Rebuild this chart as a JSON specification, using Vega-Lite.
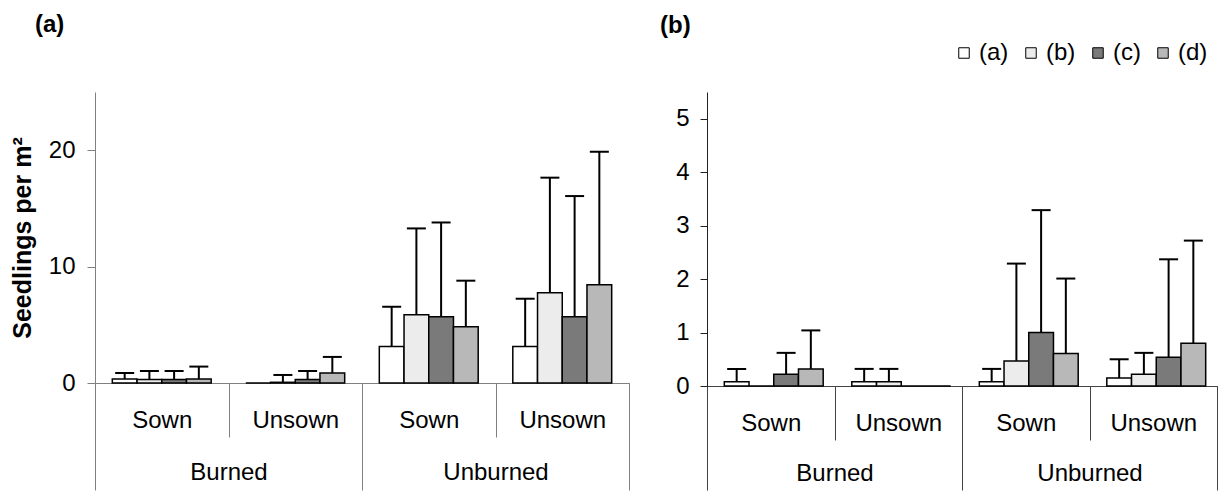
{
  "$schema": "https://vega.github.io/schema/vega-lite/v6.json",
  "padding": {"left": 10, "top": 13, "right": 0, "bottom": 0},
  "config": {
    "view": {"stroke": null},
    "font": "Liberation Sans",
    "axis": {"grid": false, "labelFont": "Liberation Sans", "titleFont": "Liberation Sans", "labelColor": "#000", "titleColor": "#000", "labelFontSize": 24},
    "title": {"font": "Liberation Sans", "fontSize": 24, "fontWeight": "bold", "color": "#000"},
    "legend": {"orient": "none", "legendX": 857, "legendY": -51, "direction": "horizontal", "title": null, "symbolType": "square", "symbolSize": 110, "symbolStrokeColor": "#000", "symbolStrokeWidth": 1, "labelFontSize": 24, "labelFont": "Liberation Sans", "labelColor": "#000", "columnPadding": 10, "labelOffset": 3, "padding": 0}
  },
  "datasets": {
    "pa": [
      {"cell": "Burned-Sown", "burn": "Burned", "series": "(a)", "mean": 0.34, "upper": 0.86},
      {"cell": "Burned-Sown", "burn": "Burned", "series": "(b)", "mean": 0.29, "upper": 1.03},
      {"cell": "Burned-Sown", "burn": "Burned", "series": "(c)", "mean": 0.29, "upper": 1.03},
      {"cell": "Burned-Sown", "burn": "Burned", "series": "(d)", "mean": 0.34, "upper": 1.41},
      {"cell": "Burned-Unsown", "burn": "Burned", "series": "(a)", "mean": 0, "upper": null},
      {"cell": "Burned-Unsown", "burn": "Burned", "series": "(b)", "mean": 0.06, "upper": 0.69},
      {"cell": "Burned-Unsown", "burn": "Burned", "series": "(c)", "mean": 0.29, "upper": 1.03},
      {"cell": "Burned-Unsown", "burn": "Burned", "series": "(d)", "mean": 0.86, "upper": 2.24},
      {"cell": "Unburned-Sown", "burn": "Unburned", "series": "(a)", "mean": 3.13, "upper": 6.55},
      {"cell": "Unburned-Sown", "burn": "Unburned", "series": "(b)", "mean": 5.86, "upper": 13.28},
      {"cell": "Unburned-Sown", "burn": "Unburned", "series": "(c)", "mean": 5.69, "upper": 13.79},
      {"cell": "Unburned-Sown", "burn": "Unburned", "series": "(d)", "mean": 4.83, "upper": 8.79},
      {"cell": "Unburned-Unsown", "burn": "Unburned", "series": "(a)", "mean": 3.13, "upper": 7.24},
      {"cell": "Unburned-Unsown", "burn": "Unburned", "series": "(b)", "mean": 7.76, "upper": 17.64},
      {"cell": "Unburned-Unsown", "burn": "Unburned", "series": "(c)", "mean": 5.69, "upper": 16.06},
      {"cell": "Unburned-Unsown", "burn": "Unburned", "series": "(d)", "mean": 8.45, "upper": 19.86}
    ],
    "pb": [
      {"cell": "Burned-Sown", "burn": "Burned", "series": "(a)", "mean": 0.08, "upper": 0.32},
      {"cell": "Burned-Sown", "burn": "Burned", "series": "(b)", "mean": 0, "upper": null},
      {"cell": "Burned-Sown", "burn": "Burned", "series": "(c)", "mean": 0.22, "upper": 0.62},
      {"cell": "Burned-Sown", "burn": "Burned", "series": "(d)", "mean": 0.32, "upper": 1.04},
      {"cell": "Burned-Unsown", "burn": "Burned", "series": "(a)", "mean": 0.08, "upper": 0.32},
      {"cell": "Burned-Unsown", "burn": "Burned", "series": "(b)", "mean": 0.08, "upper": 0.32},
      {"cell": "Burned-Unsown", "burn": "Burned", "series": "(c)", "mean": 0, "upper": null},
      {"cell": "Burned-Unsown", "burn": "Burned", "series": "(d)", "mean": 0, "upper": null},
      {"cell": "Unburned-Sown", "burn": "Unburned", "series": "(a)", "mean": 0.08, "upper": 0.32},
      {"cell": "Unburned-Sown", "burn": "Unburned", "series": "(b)", "mean": 0.47, "upper": 2.29},
      {"cell": "Unburned-Sown", "burn": "Unburned", "series": "(c)", "mean": 1.0, "upper": 3.29},
      {"cell": "Unburned-Sown", "burn": "Unburned", "series": "(d)", "mean": 0.61, "upper": 2.01},
      {"cell": "Unburned-Unsown", "burn": "Unburned", "series": "(a)", "mean": 0.15, "upper": 0.5},
      {"cell": "Unburned-Unsown", "burn": "Unburned", "series": "(b)", "mean": 0.22, "upper": 0.62},
      {"cell": "Unburned-Unsown", "burn": "Unburned", "series": "(c)", "mean": 0.54, "upper": 2.37},
      {"cell": "Unburned-Unsown", "burn": "Unburned", "series": "(d)", "mean": 0.8, "upper": 2.72}
    ]
  },
  "spacing": 30,
  "hconcat": [
    {
      "title": {"text": "(a)", "anchor": "start", "frame": "group", "dx": -60, "baseline": "alphabetic", "offset": 36},
      "width": 534,
      "height": 291,
      "data": {"name": "pa"},
      "resolve": {"scale": {"x": "independent"}, "axis": {"x": "independent"}},
      "layer": [
        {
          "layer": [
            {
              "mark": {"type": "bar", "stroke": "#000", "strokeWidth": 1.5},
              "encoding": {
                "x": {"field": "cell", "type": "nominal", "sort": null, "scale": {"paddingInner": 0, "paddingOuter": 0},
                  "axis": {"orient": "bottom", "title": null, "labelExpr": "split(datum.label,'-')[1]", "tickBand": "extent", "tickSize": 54, "labelPadding": -10, "labelBaseline": "alphabetic", "labelAngle": 0, "labelOverlap": false, "labelFontSize": 24, "domainColor": "#808080", "tickColor": "#808080"}},
                "xOffset": {"field": "series", "type": "nominal", "sort": null, "scale": {"paddingInner": 0, "paddingOuter": 0.7}},
                "y": {"field": "mean", "type": "quantitative", "scale": {"domain": [0, 25], "nice": false},
                  "axis": {"values": [0, 10, 20], "format": "d", "title": "Seedlings per m²", "titleFontSize": 25, "titleFontWeight": "bold", "titlePadding": 13, "tickSize": 8, "labelPadding": 12, "domainColor": "#808080", "tickColor": "#808080"}},
                "fill": {"field": "series", "type": "nominal", "scale": {"domain": ["(a)", "(b)", "(c)", "(d)"], "range": ["#ffffff", "#ececec", "#7a7a7a", "#b8b8b8"]}}
              }
            },
            {
              "transform": [{"filter": "isValid(datum.upper)"}],
              "mark": {"type": "rule", "strokeWidth": 2, "color": "#000"},
              "encoding": {
                "x": {"field": "cell", "type": "nominal", "sort": null},
                "xOffset": {"field": "series", "type": "nominal", "sort": null},
                "y": {"field": "mean", "type": "quantitative"},
                "y2": {"field": "upper"}
              }
            },
            {
              "transform": [{"filter": "isValid(datum.upper)"}],
              "mark": {"type": "tick", "size": 19, "thickness": 2, "color": "#000", "opacity": 1},
              "encoding": {
                "x": {"field": "cell", "type": "nominal", "sort": null},
                "xOffset": {"field": "series", "type": "nominal", "sort": null},
                "y": {"field": "upper", "type": "quantitative"}
              }
            }
          ]
        },
        {
          "mark": {"type": "tick", "opacity": 0},
          "encoding": {
            "x": {"field": "burn", "type": "nominal", "sort": null, "scale": {"paddingInner": 0, "paddingOuter": 0},
              "axis": {"orient": "bottom", "title": null, "tickBand": "extent", "tickSize": 107, "labelPadding": -11, "labelBaseline": "alphabetic", "labelAngle": 0, "labelOverlap": false, "labelFontSize": 24, "domainColor": "#808080", "tickColor": "#808080"}},
            "y": {"datum": 0, "type": "quantitative"}
          }
        }
      ]
    },
    {
      "title": {"text": "(b)", "anchor": "start", "frame": "group", "dx": -47, "baseline": "alphabetic", "offset": 35},
      "width": 510,
      "height": 294,
      "data": {"name": "pb"},
      "resolve": {"scale": {"x": "independent"}, "axis": {"x": "independent"}},
      "layer": [
        {
          "layer": [
            {
              "mark": {"type": "bar", "stroke": "#000", "strokeWidth": 1.5},
              "encoding": {
                "x": {"field": "cell", "type": "nominal", "sort": null, "scale": {"paddingInner": 0, "paddingOuter": 0},
                  "axis": {"orient": "bottom", "title": null, "labelExpr": "split(datum.label,'-')[1]", "tickBand": "extent", "tickSize": 54, "labelPadding": -10, "labelBaseline": "alphabetic", "labelAngle": 0, "labelOverlap": false, "labelFontSize": 24, "domainColor": "#444", "tickColor": "#444"}},
                "xOffset": {"field": "series", "type": "nominal", "sort": null, "scale": {"paddingInner": 0, "paddingOuter": 0.72}},
                "y": {"field": "mean", "type": "quantitative", "scale": {"domain": [0, 5.5], "nice": false},
                  "axis": {"values": [0, 1, 2, 3, 4, 5], "format": "d", "title": null, "tickSize": 7, "labelPadding": 11, "domainColor": "#222", "tickColor": "#222"}},
                "fill": {"field": "series", "type": "nominal", "scale": {"domain": ["(a)", "(b)", "(c)", "(d)"], "range": ["#ffffff", "#ececec", "#7a7a7a", "#b8b8b8"]}}
              }
            },
            {
              "transform": [{"filter": "isValid(datum.upper)"}],
              "mark": {"type": "rule", "strokeWidth": 2, "color": "#000"},
              "encoding": {
                "x": {"field": "cell", "type": "nominal", "sort": null},
                "xOffset": {"field": "series", "type": "nominal", "sort": null},
                "y": {"field": "mean", "type": "quantitative"},
                "y2": {"field": "upper"}
              }
            },
            {
              "transform": [{"filter": "isValid(datum.upper)"}],
              "mark": {"type": "tick", "size": 19, "thickness": 2, "color": "#000", "opacity": 1},
              "encoding": {
                "x": {"field": "cell", "type": "nominal", "sort": null},
                "xOffset": {"field": "series", "type": "nominal", "sort": null},
                "y": {"field": "upper", "type": "quantitative"}
              }
            }
          ]
        },
        {
          "mark": {"type": "tick", "opacity": 0},
          "encoding": {
            "x": {"field": "burn", "type": "nominal", "sort": null, "scale": {"paddingInner": 0, "paddingOuter": 0},
              "axis": {"orient": "bottom", "title": null, "tickBand": "extent", "tickSize": 104, "labelPadding": -10, "labelBaseline": "alphabetic", "labelAngle": 0, "labelOverlap": false, "labelFontSize": 24, "domainColor": "#444", "tickColor": "#444"}},
            "y": {"datum": 0, "type": "quantitative"}
          }
        }
      ]
    }
  ]
}
